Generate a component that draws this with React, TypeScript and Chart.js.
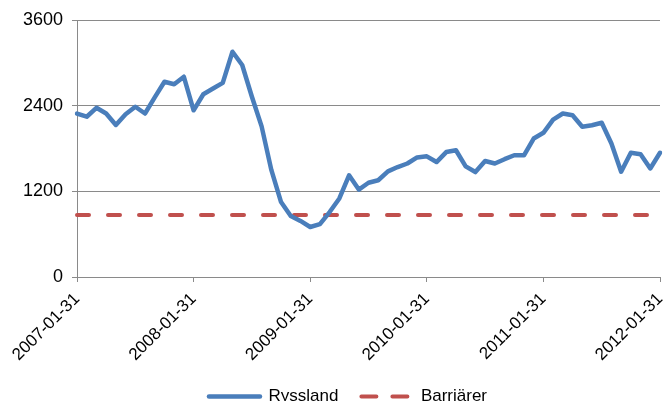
import React, { useEffect, useRef } from "react";
import { Chart, registerables } from "chart.js";

Chart.register(...registerables);

const categories: string[] = [
  "2007-01-31", "2007-02-28", "2007-03-31", "2007-04-30", "2007-05-31", "2007-06-30",
  "2007-07-31", "2007-08-31", "2007-09-30", "2007-10-31", "2007-11-30", "2007-12-31",
  "2008-01-31", "2008-02-29", "2008-03-31", "2008-04-30", "2008-05-31", "2008-06-30",
  "2008-07-31", "2008-08-31", "2008-09-30", "2008-10-31", "2008-11-30", "2008-12-31",
  "2009-01-31", "2009-02-28", "2009-03-31", "2009-04-30", "2009-05-31", "2009-06-30",
  "2009-07-31", "2009-08-31", "2009-09-30", "2009-10-31", "2009-11-30", "2009-12-31",
  "2010-01-31", "2010-02-28", "2010-03-31", "2010-04-30", "2010-05-31", "2010-06-30",
  "2010-07-31", "2010-08-31", "2010-09-30", "2010-10-31", "2010-11-30", "2010-12-31",
  "2011-01-31", "2011-02-28", "2011-03-31", "2011-04-30", "2011-05-31", "2011-06-30",
  "2011-07-31", "2011-08-31", "2011-09-30", "2011-10-31", "2011-11-30", "2011-12-31",
  "2012-01-31",
];

const ryssland: number[] = [
  2290, 2245, 2370, 2290, 2130, 2280, 2385, 2290, 2515, 2735, 2700, 2805,
  2335, 2560, 2640, 2720, 3155, 2970, 2525, 2110, 1500, 1050, 855, 785,
  700, 740, 910, 1100, 1425, 1225, 1320, 1355, 1480, 1540, 1590, 1675,
  1690, 1610, 1750, 1775, 1550, 1470, 1625, 1590, 1650, 1705, 1705, 1940,
  2020, 2205, 2290, 2265, 2105, 2125, 2160, 1870, 1475, 1740, 1720, 1520,
  1740,
];

const barriarer: number[] = [
  870, 870, 870, 870, 870, 870, 870, 870, 870, 870, 870, 870,
  870, 870, 870, 870, 870, 870, 870, 870, 870, 870, 870, 870,
  870, 870, 870, 870, 870, 870, 870, 870, 870, 870, 870, 870,
  870, 870, 870, 870, 870, 870, 870, 870, 870, 870, 870, 870,
  870, 870, 870, 870, 870, 870, 870, 870, 870, 870, 870, 870,
  870,
];

const yTicks: number[] = [0, 1200, 2400, 3600];

const FAMILY = "'Liberation Sans', Arial, sans-serif";
const FONT = { family: FAMILY, size: 17 };
const YFONT = { family: FAMILY, size: 18 };
const GRID = "#8a8a8a";
const BLUE = "#4A7EBB";
const RED = "#C0504D";
const PAD_BOTTOM = -14;

const legendShift = {
  id: "legendShift",
  afterLayout(chart: any) {
    if (chart.legend) {
      chart.legend.left += 18;
      chart.legend.right += 18;
    }
  },
};

export default function App() {
  const ref = useRef<HTMLCanvasElement | null>(null);

  useEffect(() => {
    if (!ref.current) return;
    const chart = new Chart(ref.current, {
      type: "line",
      plugins: [legendShift],
      data: {
        labels: categories,
        datasets: [
          {
            label: "Ryssland",
            data: ryssland,
            borderColor: BLUE,
            backgroundColor: BLUE,
            borderWidth: 4.5,
            pointRadius: 0,
            tension: 0,
            borderJoinStyle: "round",
            borderCapStyle: "round",
          },
          {
            label: "Barriärer",
            data: barriarer,
            borderColor: RED,
            backgroundColor: RED,
            borderWidth: 4,
            borderDash: [12, 19],
            borderCapStyle: "round",
            pointRadius: 0,
            tension: 0,
          },
        ],
      },
      options: {
        animation: false,
        responsive: false,
        devicePixelRatio: 1,
        layout: { padding: { left: 0, right: 5, top: 20, bottom: PAD_BOTTOM } },
        plugins: {
          tooltip: { enabled: false },
          legend: {
            position: "bottom",
            labels: {
              usePointStyle: true,
              pointStyle: "line",
              pointStyleWidth: 51,
              boxHeight: 17,
              padding: 23,
              color: "#000",
              font: FONT,
              generateLabels: (c: any) => {
                const items = Chart.defaults.plugins.legend.labels.generateLabels(c);
                items.forEach((it: any, i: number) => {
                  it.pointStyle = "line";
                  it.lineCap = "round";
                  if (i === 1) it.lineDash = [15, 16];
                  else it.lineDash = [];
                });
                return items;
              },
            },
          },
        },
        scales: {
          x: {
            offset: false,
            grid: {
              drawOnChartArea: false,
              tickLength: 5,
              color: (ctx: any) => (ctx.index % 12 === 0 ? GRID : "rgba(0,0,0,0)"),
            },
            border: { color: GRID },
            ticks: {
              autoSkip: false,
              minRotation: 45,
              maxRotation: 45,
              color: "#000",
              font: FONT,
              padding: 7,
              callback: (_v: any, i: number) => (i % 12 === 0 ? categories[i] : ""),
            },
            afterFit: (s: any) => {
              const lh = s.chart.legend ? s.chart.legend.height : 0;
              s.height = 401 - PAD_BOTTOM - 277 - lh;
              s.paddingLeft = 0;
              s.paddingRight = 0;
            },
          },
          y: {
            min: 0,
            max: 3600,
            afterBuildTicks: (s: any) => {
              s.ticks = yTicks.map((v) => ({ value: v }));
            },
            ticks: {
              color: "#000",
              font: YFONT,
              padding: 9,
              callback: (v: any) => String(v),
            },
            grid: { color: GRID, tickLength: 5 },
            border: { color: GRID },
            afterFit: (s: any) => {
              s.width = 77;
              s.paddingTop = 0;
              s.paddingBottom = 0;
            },
          },
        },
      },
    });
    return () => chart.destroy();
  }, []);

  return (
    <div style={{ position: "fixed", left: 0, top: 0, width: 665, height: 401, background: "#fff" }}>
      <canvas ref={ref} width={665} height={401} />
    </div>
  );
}
